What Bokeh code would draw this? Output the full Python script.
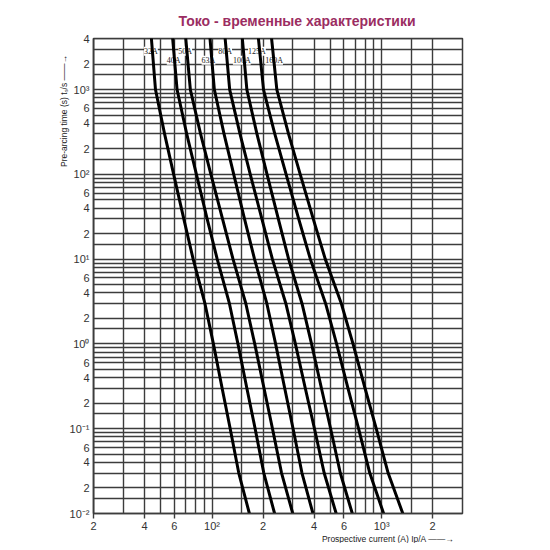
from bokeh.plotting import figure
from bokeh.models import FixedTicker, LabelSet, ColumnDataSource, Title, Range1d
from bokeh.embed import file_html
from bokeh.resources import INLINE

# ---- data ----
times = [4000, 1000, 300, 100, 30, 10, 3, 1, 0.3, 0.1, 0.03, 0.01]

i_32A = [43.9, 46.4, 52.5, 59.4, 68.1, 77.4, 90.8, 101.9, 114.7, 128.0, 143.8, 166.1]
i_40A = [58.6, 62.2, 70.9, 80.9, 93.5, 107.3, 126.6, 142.2, 160.5, 179.6, 202.0, 233.9]
i_50A = [70.0, 74.5, 85.6, 98.5, 115.2, 133.0, 158.2, 178.6, 202.6, 227.3, 257.1, 299.4]
i_63A = [97.3, 103.2, 117.7, 134.3, 155.3, 178.1, 210.5, 237.1, 268.3, 300.6, 339.2, 393.8]
i_80A = [119.5, 127.1, 146.2, 168.1, 196.6, 227.0, 272.4, 310.2, 354.8, 402.0, 458.5, 539.7]
i_100A = [150.9, 160.5, 184.0, 211.1, 245.8, 283.0, 339.2, 386.3, 441.8, 500.6, 570.8, 672.0]
i_125A = [187.8, 201.2, 234.5, 273.5, 324.1, 380.1, 467.3, 542.7, 633.7, 731.6, 851.8, 1028.0]
i_160A = [224.5, 241.1, 282.6, 331.3, 394.9, 465.5, 578.7, 678.4, 798.6, 930.0, 1093.0, 1334.0]

ratings = ["32A", "40A", "50A", "63A", "80A", "100A", "125A", "160A"]
label_current = [43.6, 59.4, 69.5, 95.3, 119.5, 149.8, 184.0, 232.3]
label_time = [2820, 2210, 2820, 2210, 2820, 2210, 2820, 2210]

x_tick_values = [20, 40, 60, 100, 200, 400, 600, 1000, 2000]
x_tick_labels = ["2", "4", "6", "10²", "2", "4", "6", "10³", "2"]
y_tick_values = [0.01, 0.02, 0.04, 0.06, 0.1, 0.2, 0.4, 0.6, 1, 2, 4, 6,
                 10, 20, 40, 60, 100, 200, 400, 600, 1000, 2000, 4000]
y_tick_labels = ["10⁻²", "2", "4", "6", "10⁻¹", "2", "4", "6", "10⁰", "2", "4", "6",
                 "10¹", "2", "4", "6", "10²", "2", "4", "6", "10³", "2", "4"]

x_grid_values = [20, 30, 40, 50, 60, 70, 80, 90, 100, 150, 200, 300, 400, 500,
                 600, 700, 800, 900, 1000, 1500, 2000, 3000]
y_grid_mantissas = [1, 1.5, 2, 3, 4, 5, 6, 7, 8, 9]
y_grid_decades = [0.01, 0.1, 1, 10, 100, 1000]

title_text = "Токо - временные характеристики"
x_label_text = "Prospective current (A) Ip/A  ——→"
y_label_text = "Pre-arcing time (s)   tₛ/s   ——→"

# ---- figure ----
FONT = "Liberation Sans"
GRID = "#3c3c3c"

p = figure(x_axis_type="log", y_axis_type="log",
           x_range=Range1d(19.999, 3000), y_range=Range1d(0.01, 4000.001),
           frame_width=369, frame_height=475,
           min_border_left=93, min_border_right=40, min_border_top=38, min_border_bottom=30,
           output_backend="svg", toolbar_location=None,
           background_fill_color="white", border_fill_color="white")

p.title.text = title_text
p.title.align = "left"
p.title.offset = 85
p.title.text_font = FONT
p.title.text_font_size = "14px"
p.title.text_font_style = "bold"
p.title.text_color = "#9b2d62"
p.title.standoff = 20

p.outline_line_color = GRID
p.outline_line_width = 1.5

# grids
y_grid_values = [d * m for d in y_grid_decades for m in y_grid_mantissas]
p.xgrid.ticker = FixedTicker(ticks=x_grid_values)
p.ygrid.ticker = FixedTicker(ticks=y_grid_values)
for g in (p.xgrid, p.ygrid):
    g.grid_line_color = GRID
    g.grid_line_width = 1.4
    g.grid_line_alpha = 1.0

# axes
p.xaxis.ticker = FixedTicker(ticks=x_tick_values)
p.xaxis.major_label_overrides = {v: t for v, t in zip(x_tick_values, x_tick_labels)}
p.yaxis.ticker = FixedTicker(ticks=y_tick_values)
p.yaxis.major_label_overrides = {v: t for v, t in zip(y_tick_values, y_tick_labels)}
for ax in (p.xaxis, p.yaxis):
    ax.axis_line_color = GRID
    ax.axis_line_width = 1.5
    ax.major_tick_line_color = GRID
    ax.major_tick_line_width = 1.4
    ax.minor_tick_out = 0
    ax.minor_tick_in = 0
    ax.major_tick_in = 0
    ax.major_label_text_font = FONT
    ax.major_label_text_font_size = "11px"
    ax.major_label_text_color = "#333333"
p.xaxis.major_tick_out = 5
p.xaxis.major_label_standoff = 1
p.yaxis.major_tick_out = 0
p.yaxis.major_label_standoff = 4

# axis titles
p.add_layout(Title(text=x_label_text, align="right", offset=6,
                   text_font=FONT, text_font_size="8.5px", text_font_style="normal",
                   text_color="#222222", standoff=-6), "below")
p.add_layout(Title(text=y_label_text, align="right", offset=7,
                   text_font=FONT, text_font_size="8.5px", text_font_style="normal",
                   text_color="#222222", standoff=-4), "left")

# rating labels (white boxes interrupt the grid)
lab_src = ColumnDataSource(dict(x=label_current, y=label_time, text=ratings))
labels = LabelSet(x="x", y="y", text="text", source=lab_src, level="underlay",
                  text_align="center", text_baseline="middle",
                  text_font=FONT, text_font_size="8px", text_color="#222222",
                  background_fill_color="white", background_fill_alpha=1.0)
p.add_layout(labels)

# curves
for cur in (i_32A, i_40A, i_50A, i_63A, i_80A, i_100A, i_125A, i_160A):
    p.line(cur, times, line_color="black", line_width=3, line_join="round", line_cap="round")

open("out.html", "w").write(file_html(p, INLINE))
